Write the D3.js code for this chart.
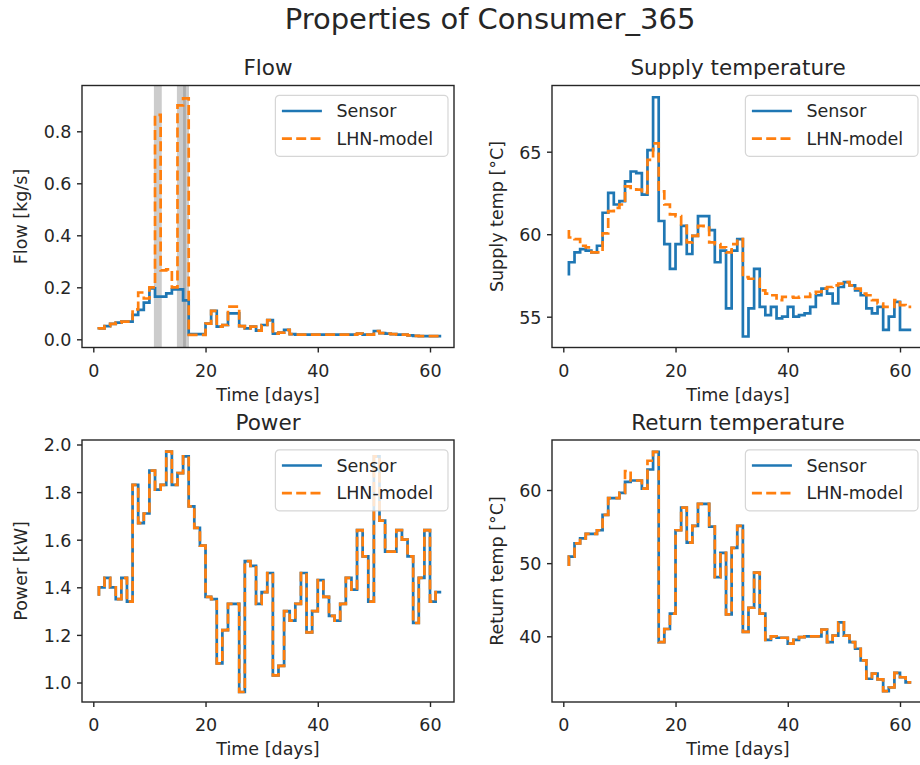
<!DOCTYPE html>
<html>
<head>
<meta charset="utf-8">
<script src="https://cdn.jsdelivr.net/npm/d3@7/dist/d3.min.js"></script>
<style>
  body { margin: 0; background: #fff; }
  text { font-family: "DejaVu Sans", sans-serif; fill: #262626; }
</style>
</head>
<body>
<script>
// ************** Data **************************************
var days = [1, 2, 3, 4, 5, 6, 7, 8, 9, 10, 11, 12, 13, 14, 15, 16, 17, 18, 19, 20,
  21, 22, 23, 24, 25, 26, 27, 28, 29, 30, 31, 32, 33, 34, 35, 36, 37, 38, 39, 40,
  41, 42, 43, 44, 45, 46, 47, 48, 49, 50, 51, 52, 53, 54, 55, 56, 57, 58, 59, 60, 61, 62];

var flowSensor = [0.038, 0.042, 0.051, 0.059, 0.064, 0.068, 0.068, 0.094, 0.113, 0.141,
  0.196, 0.164, 0.164, 0.177, 0.192, 0.192, 0.150, 0.020, 0.020, 0.020,
  0.060, 0.109, 0.049, 0.055, 0.100, 0.100, 0.051, 0.042, 0.049, 0.033,
  0.055, 0.074, 0.022, 0.026, 0.036, 0.020, 0.018, 0.018, 0.018, 0.018,
  0.018, 0.018, 0.018, 0.018, 0.018, 0.018, 0.018, 0.022, 0.018, 0.018,
  0.032, 0.024, 0.022, 0.020, 0.018, 0.018, 0.015, 0.013, 0.012, 0.012, 0.012, 0.012];
var flowModel = [0.038, 0.042, 0.051, 0.059, 0.064, 0.068, 0.068, 0.115, 0.180, 0.157,
  0.200, 0.863, 0.265, 0.269, 0.200, 0.900, 0.927, 0.017, 0.017, 0.017,
  0.060, 0.109, 0.049, 0.055, 0.126, 0.126, 0.051, 0.042, 0.049, 0.033,
  0.055, 0.074, 0.022, 0.026, 0.036, 0.020, 0.018, 0.018, 0.018, 0.018,
  0.018, 0.018, 0.018, 0.018, 0.018, 0.018, 0.018, 0.022, 0.018, 0.018,
  0.032, 0.024, 0.022, 0.020, 0.018, 0.018, 0.015, 0.013, 0.012, 0.012, 0.012, 0.012];
// shaded spans on the flow plot [start day, end day]
var flowSpans = [[10.8, 12.2], [14.9, 16.5], [16.0, 17.05]];

var supplySensor = [57.5, 58.3, 58.9, 59.1, 59.0, 58.9, 59.3, 61.3, 62.5, 61.8,
  62.0, 63.2, 63.8, 63.7, 62.4, 65.1, 68.3, 60.8, 59.4, 57.9,
  59.4, 60.5, 58.8, 59.9, 61.1, 61.1, 60.25, 58.3, 59.0, 55.5,
  59.0, 59.7, 53.8, 55.5, 57.9, 55.6, 55.1, 55.6, 54.9, 55.0,
  55.6, 55.0, 55.1, 55.2, 55.6, 56.3, 56.7, 56.4, 55.8, 56.8,
  57.1, 56.9, 56.6, 56.3, 55.5, 55.2, 55.6, 54.2, 55.0, 55.9, 54.2, 54.2];
var supplyModel = [60.25, 59.8, 59.7, 59.3, 59.2, 58.9, 58.9, 60.05, 61.4, 61.6,
  61.8, 62.9, 62.8, 62.7, 62.5, 64.5, 65.5, 62.6, 61.8, 61.2,
  61.1, 60.5, 59.5, 59.9, 60.5, 60.4, 59.5, 59.4, 59.2, 58.9,
  59.4, 59.7, 57.4, 57.3, 57.3, 56.6, 56.4, 56.3, 56.0, 56.2,
  56.2, 56.15, 56.2, 56.2, 56.4, 56.5, 56.7, 56.8, 56.9, 57.0,
  57.1, 56.9, 56.7, 56.4, 56.3, 56.0, 55.8, 55.6, 55.6, 56.0, 55.7, 55.6];

var powerSensor = [1.365, 1.40, 1.44, 1.40, 1.35, 1.44, 1.34, 1.83, 1.67, 1.71,
  1.89, 1.81, 1.83, 1.97, 1.83, 1.88, 1.95, 1.74, 1.65, 1.575,
  1.36, 1.35, 1.08, 1.22, 1.33, 1.33, 0.96, 1.51, 1.49, 1.33,
  1.38, 1.46, 1.03, 1.07, 1.30, 1.26, 1.33, 1.46, 1.21, 1.30,
  1.43, 1.36, 1.28, 1.26, 1.33, 1.44, 1.39, 1.64, 1.53, 1.34,
  1.95, 1.68, 1.55, 1.55, 1.64, 1.60, 1.53, 1.25, 1.44, 1.64, 1.34, 1.38];
// the model power lies exactly on the sensor power
var powerModel = powerSensor.slice();

var returnSensor = [49.6, 50.9, 52.7, 53.4, 54.0, 54.0, 54.5, 56.6, 58.9, 58.9,
  59.6, 61.1, 61.3, 61.3, 60.2, 62.8, 65.2, 39.2, 41.0, 43.1,
  54.5, 57.6, 52.8, 55.1, 58.1, 58.1, 55.0, 48.1, 51.4, 43.0,
  52.1, 55.1, 40.6, 43.9, 48.7, 43.1, 39.5, 40.0, 39.8, 39.8,
  39.0, 39.5, 39.9, 40.0, 40.0, 40.0, 40.9, 39.2, 40.1, 41.9,
  40.1, 39.2, 38.3, 36.7, 34.2, 34.9, 34.1, 32.5, 33.0, 35.0, 34.4, 33.7];
var returnModel = [49.6, 50.9, 52.7, 53.4, 54.0, 54.0, 54.5, 56.6, 58.9, 58.9,
  59.6, 62.6, 61.3, 61.3, 60.2, 64.0, 65.2, 39.2, 41.0, 43.1,
  54.5, 57.6, 52.8, 55.1, 58.1, 58.1, 55.0, 48.1, 51.4, 43.0,
  52.1, 55.1, 40.6, 43.9, 48.7, 43.1, 39.5, 40.0, 39.8, 39.8,
  39.0, 39.5, 39.9, 40.0, 40.0, 40.0, 40.9, 39.2, 40.1, 41.9,
  40.1, 39.2, 38.3, 36.7, 34.2, 34.9, 34.1, 32.5, 33.0, 35.0, 34.4, 33.7];

var xTicks = [0, 20, 40, 60];
var flowTicks = [0.0, 0.2, 0.4, 0.6, 0.8];
var supplyTicks = [55, 60, 65];
var powerTicks = [1.0, 1.2, 1.4, 1.6, 1.8, 2.0];
var returnTicks = [40, 50, 60];
var seriesNames = ["Sensor", "LHN-model"];

// ************** Styles *****************
var sensorColor = "#1f77b4",
    modelColor = "#ff7f0e",
    inkColor = "#262626",
    lineWidth = 2.7,
    tickFont = 17.5,
    labelFont = 17.5,
    titleFont = 21.5;

var svg = d3.select("body").append("svg")
  .attr("width", 920)
  .attr("height", 765);

svg.append("rect").attr("width", 920).attr("height", 765).attr("fill", "#fff");

svg.append("text")
  .attr("x", 490).attr("y", 28.5)
  .attr("text-anchor", "middle")
  .style("font-size", "29px")
  .text("Properties of Consumer_365");

// one panel = one axes box
drawPanel({
  id: "flow", left: 82, right: 454, top: 85.5, bottom: 347.5,
  xRange: [93.3, 430], yDomain: [0, 0.8], yRange: [339.3, 131.3],
  yTicks: flowTicks, yFormat: d3.format(".1f"),
  title: "Flow", yLabel: "Flow [kg/s]", labelX: 27,
  sensor: flowSensor, model: flowModel, spans: flowSpans
});
drawPanel({
  id: "supply", left: 552, right: 924, top: 85.5, bottom: 347.5,
  xRange: [563.3, 900], yDomain: [55, 65], yRange: [316.7, 151.7],
  yTicks: supplyTicks, yFormat: d3.format("d"),
  title: "Supply temperature", yLabel: "Supply temp [°C]", labelX: 502.5,
  sensor: supplySensor, model: supplyModel
});
drawPanel({
  id: "power", left: 82, right: 454, top: 440, bottom: 702,
  xRange: [93.3, 430], yDomain: [1.0, 2.0], yRange: [682.5, 444.5],
  yTicks: powerTicks, yFormat: d3.format(".1f"),
  title: "Power", yLabel: "Power [kW]", labelX: 27,
  sensor: powerSensor, model: powerModel
});
drawPanel({
  id: "return", left: 552, right: 924, top: 440, bottom: 702,
  xRange: [563.3, 900], yDomain: [40, 60], yRange: [636.3, 490],
  yTicks: returnTicks, yFormat: d3.format("d"),
  title: "Return temperature", yLabel: "Return temp [°C]", labelX: 502.5,
  sensor: returnSensor, model: returnModel
});

function drawPanel(p) {
  var x = d3.scaleLinear().domain([0, 60]).range(p.xRange),
      y = d3.scaleLinear().domain(p.yDomain).range(p.yRange),
      g = svg.append("g");

  g.append("clipPath").attr("id", "clip-" + p.id)
    .append("rect")
    .attr("x", p.left).attr("y", p.top)
    .attr("width", p.right - p.left).attr("height", p.bottom - p.top);

  var plot = g.append("g").attr("clip-path", "url(#clip-" + p.id + ")");

  // gray spans (drawn under the lines)
  (p.spans || []).forEach(function (s) {
    plot.append("rect")
      .attr("x", x(s[0])).attr("width", x(s[1]) - x(s[0]))
      .attr("y", p.top).attr("height", p.bottom - p.top)
      .attr("fill", "#808080").attr("fill-opacity", 0.4);
  });

  var line = d3.line()
    .x(function (d, i) { return x(days[i]); })
    .y(function (d) { return y(d); })
    .curve(d3.curveStepBefore);

  plot.append("path").datum(p.sensor)
    .attr("d", line)
    .attr("fill", "none")
    .attr("stroke", sensorColor)
    .attr("stroke-width", lineWidth)
    .attr("stroke-linejoin", "miter");

  plot.append("path").datum(p.model)
    .attr("d", line)
    .attr("fill", "none")
    .attr("stroke", modelColor)
    .attr("stroke-width", lineWidth)
    .attr("stroke-dasharray", "10,4.3");

  // frame
  g.append("rect")
    .attr("x", p.left).attr("y", p.top)
    .attr("width", p.right - p.left).attr("height", p.bottom - p.top)
    .attr("fill", "none").attr("stroke", inkColor).attr("stroke-width", 1.4);

  // x axis
  var xAxis = g.append("g")
    .attr("transform", "translate(0," + p.bottom + ")")
    .call(d3.axisBottom(x).tickValues(xTicks).tickSize(5).tickFormat(d3.format("d")));
  styleAxis(xAxis);
  xAxis.selectAll("text").attr("y", 29).attr("dy", null);

  // y axis
  var yAxis = g.append("g")
    .attr("transform", "translate(" + p.left + ",0)")
    .call(d3.axisLeft(y).tickValues(p.yTicks).tickSize(5).tickFormat(p.yFormat));
  styleAxis(yAxis);
  yAxis.selectAll("text").attr("x", -10.5).attr("dy", "0.36em");

  var cx = (p.left + p.right) / 2, cy = (p.top + p.bottom) / 2;

  g.append("text")
    .attr("x", cx).attr("y", p.top - 10.5)
    .attr("text-anchor", "middle")
    .style("font-size", titleFont + "px")
    .text(p.title);

  g.append("text")
    .attr("x", cx).attr("y", p.bottom + 53)
    .attr("text-anchor", "middle")
    .style("font-size", labelFont + "px")
    .text("Time [days]");

  g.append("text")
    .attr("transform", "translate(" + p.labelX + "," + cy + ") rotate(-90)")
    .attr("text-anchor", "middle")
    .style("font-size", labelFont + "px")
    .text(p.yLabel);

  addLegend(g, p.right - 6 - 172.6, p.top + 9.8);
}

function styleAxis(axisGroup) {
  axisGroup.select(".domain").remove();
  axisGroup.attr("font-family", null).attr("font-size", null);
  axisGroup.selectAll("line").attr("stroke", inkColor).attr("stroke-width", 1.4);
  axisGroup.selectAll("text")
    .style("font-size", tickFont + "px")
    .style("fill", inkColor);
}

function addLegend(g, lx, ly) {
  var legend = g.append("g").attr("transform", "translate(" + lx + "," + ly + ")");
  legend.append("rect")
    .attr("width", 172.6).attr("height", 61)
    .attr("rx", 4).attr("ry", 4)
    .attr("fill", "#fff").attr("fill-opacity", 0.8)
    .attr("stroke", "#cccccc").attr("stroke-opacity", 0.8).attr("stroke-width", 1.2);

  var rows = [
    { name: seriesNames[0], color: sensorColor, dash: null, y: 15.7 },
    { name: seriesNames[1], color: modelColor, dash: "10,4.3", y: 43.3 }
  ];
  rows.forEach(function (r) {
    legend.append("line")
      .attr("x1", 6.5).attr("x2", 46.5)
      .attr("y1", r.y).attr("y2", r.y)
      .attr("stroke", r.color)
      .attr("stroke-width", lineWidth)
      .attr("stroke-dasharray", r.dash);
    legend.append("text")
      .attr("x", 61).attr("y", r.y).attr("dy", "0.36em")
      .style("font-size", labelFont + "px")
      .text(r.name);
  });
}
</script>
</body>
</html>
